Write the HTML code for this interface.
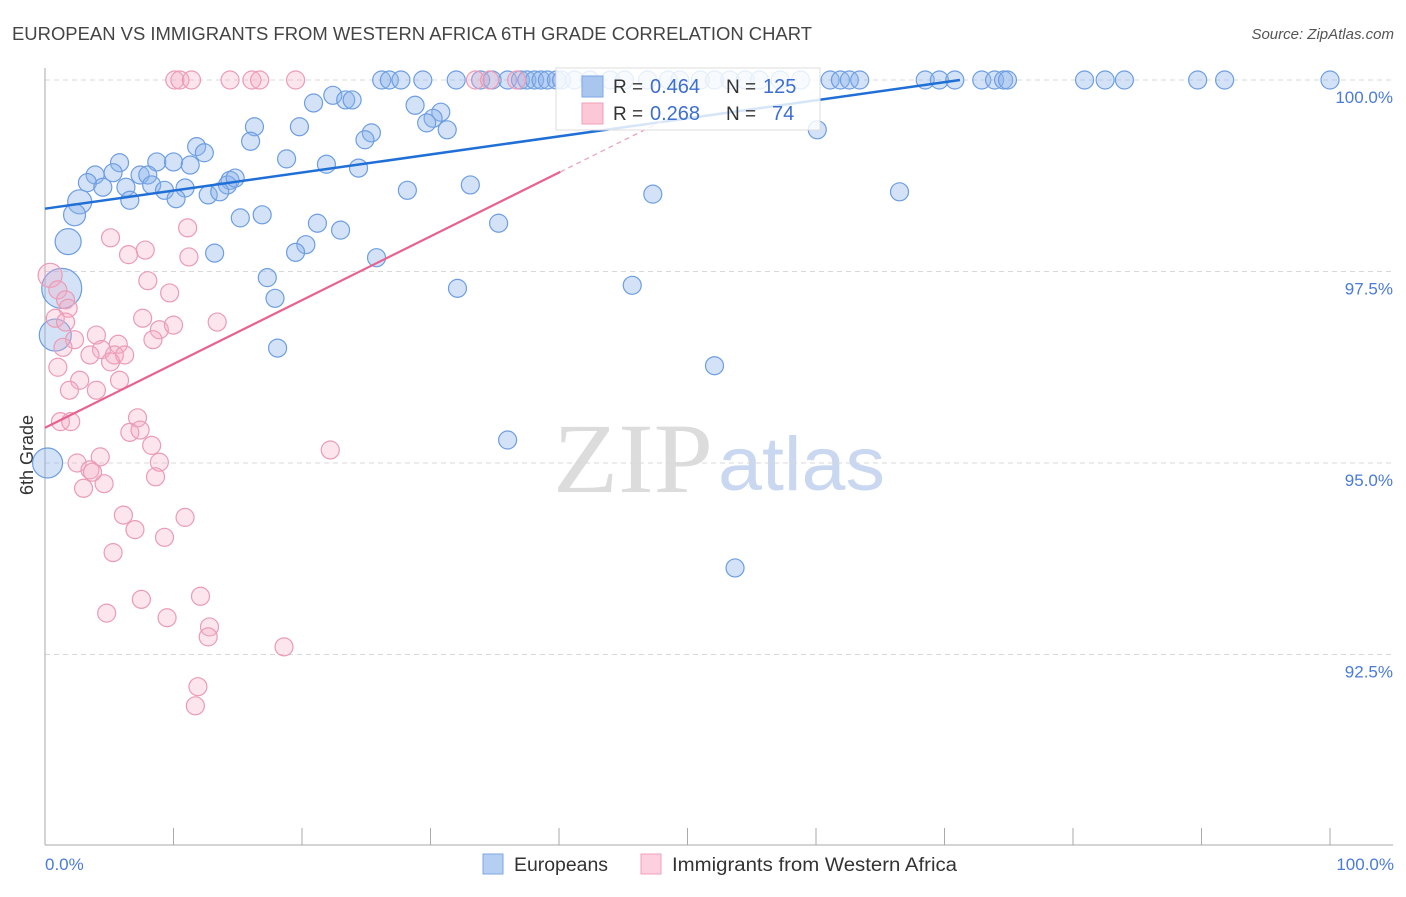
<!DOCTYPE html>
<html><head><meta charset="utf-8"><style>
body{margin:0;background:#fff;font-family:"Liberation Sans",sans-serif}
svg text{font-family:"Liberation Sans",sans-serif}
</style></head><body>
<svg id="chart" width="1406" height="892" xmlns="http://www.w3.org/2000/svg">
<text x="12" y="40" font-size="18" fill="#444" textLength="800" lengthAdjust="spacingAndGlyphs">EUROPEAN VS IMMIGRANTS FROM WESTERN AFRICA 6TH GRADE CORRELATION CHART</text>
<text x="1394" y="39" font-size="15" fill="#555" font-style="italic" text-anchor="end">Source: ZipAtlas.com</text>
<text transform="translate(33,455) rotate(-90)" font-size="18" fill="#333" text-anchor="middle">6th Grade</text>
<g>
<text x="553" y="492" font-size="100" fill="#dcdcdc" textLength="160" lengthAdjust="spacingAndGlyphs" style="font-family:'Liberation Serif',serif">ZIP</text>
<text x="718" y="490" font-size="76" fill="#c9d8f0" textLength="167" lengthAdjust="spacingAndGlyphs">atlas</text>
</g>
<g id="grid"></g>
<g id="axes"></g>
<g id="pts"></g>
<g id="lines"></g>
<g>
<rect x="556" y="68" width="264" height="62" fill="rgba(255,255,255,0.82)" stroke="#ddd"/>
<rect x="582" y="76" width="21" height="21" fill="#a9c6ef" stroke="#7ea6e4"/>
<text x="613" y="93" font-size="19" fill="#333">R = </text><text x="650" y="93" font-size="20" fill="#3d6fd0">0.464</text>
<text x="726" y="93" font-size="19" fill="#333">N = </text><text x="763" y="93" font-size="20" fill="#3d6fd0">125</text>
<rect x="582" y="103" width="21" height="21" fill="#fcc8d8" stroke="#f0a0b8"/>
<text x="613" y="120" font-size="19" fill="#333">R = </text><text x="650" y="120" font-size="20" fill="#3d6fd0">0.268</text>
<text x="726" y="120" font-size="19" fill="#333">N = </text><text x="772" y="120" font-size="20" fill="#3d6fd0">74</text>
</g>
<g>
<rect x="483" y="854" width="20" height="20" fill="#b4cff2" stroke="#7ea6e4"/>
<text x="514" y="871" font-size="19" fill="#333" textLength="94" lengthAdjust="spacingAndGlyphs">Europeans</text>
<rect x="641" y="854" width="20" height="20" fill="#fcd0de" stroke="#f0a0b8"/>
<text x="672" y="871" font-size="19" fill="#333" textLength="285" lengthAdjust="spacingAndGlyphs">Immigrants from Western Africa</text>
</g>
<text x="45" y="870" font-size="17" fill="#4a7bd8">0.0%</text>
<text x="1394" y="870" font-size="17" fill="#4a7bd8" text-anchor="end">100.0%</text>
</svg>
<script>
const blueX=[26.2,26.8,27.7,29.4,32.0,33.9,34.8,36.0,37.0,37.5,38.1,38.6,39.1,39.8,40.2,41.2,42.4,44.0,45.1,46.9,48.5,49.4,51.0,52.1,53.3,54.5,55.6,57.2,58.8,61.1,61.9,62.6,63.4,68.5,69.6,70.8,72.9,73.9,74.6,74.9,80.9,82.5,84.0,89.7,91.8,100,
22.4,20.9,23.4,23.9,28.8,30.8,30.2,29.7,31.3,25.4,24.9,19.8,16.3,16.0,11.8,12.4,18.8,21.9,24.4,5.8,8.7,10.0,11.3,3.9,5.3,7.4,8.0,3.3,4.5,6.3,8.3,9.3,10.9,14.4,14.2,14.8,12.7,13.6,6.6,10.2,2.7,2.3,1.8,15.2,16.9,21.2,23.0,20.3,19.5,13.2,28.2,33.1,47.3,66.5,35.3,25.8,17.3,17.9,1.3,32.1,45.7,0.8,18.1,52.1,0.2,36.0,53.7,60.1];
const blueY=[100,100,100,100,100,100,100,100,100,100,100,100,100,100,100,100,100,100,100,100,100,100,100,100,100,100,100,100,100,100,100,100,100,100,100,100,100,100,100,100,100,100,100,100,100,100,
99.80,99.70,99.74,99.74,99.67,99.58,99.50,99.44,99.35,99.31,99.22,99.39,99.39,99.20,99.13,99.05,98.97,98.90,98.85,98.92,98.93,98.93,98.89,98.76,98.79,98.76,98.76,98.66,98.60,98.60,98.63,98.56,98.59,98.69,98.63,98.72,98.50,98.54,98.43,98.45,98.41,98.24,97.89,98.20,98.24,98.13,98.04,97.85,97.75,97.74,98.56,98.63,98.51,98.54,98.13,97.68,97.42,97.15,97.28,97.28,97.32,96.67,96.50,96.27,95.00,95.30,93.63,99.35];
const blueBig={86:12,87:11,88:13,104:20,107:16,110:15};
const pinkX=[10.1,10.5,11.4,14.4,16.1,16.7,19.5,33.5,34.6,36.7,
5.1,7.8,6.5,11.1,11.2,8.0,9.7,0.4,1.0,1.6,1.8,0.8,1.6,7.6,4.0,8.9,10.0,13.4,2.3,1.4,5.7,4.4,3.5,5.4,6.2,5.1,8.4,1.0,2.7,5.8,1.9,4.0,7.2,1.2,2.0,6.6,7.4,8.3,22.2,2.5,4.3,8.9,3.5,3.7,8.6,4.6,3.0,6.1,10.9,7.0,9.3,5.3,7.5,4.8,9.5,12.1,12.8,12.7,18.6,11.9,11.7];
const pinkY=[100,100,100,100,100,100,100,100,100,100,
97.94,97.78,97.72,98.07,97.69,97.38,97.22,97.45,97.26,97.13,97.02,96.89,96.84,96.89,96.67,96.74,96.80,96.84,96.61,96.51,96.55,96.48,96.41,96.41,96.41,96.32,96.61,96.25,96.08,96.08,95.95,95.95,95.59,95.54,95.54,95.40,95.43,95.23,95.17,95.00,95.08,95.01,94.91,94.88,94.82,94.73,94.67,94.32,94.29,94.13,94.03,93.83,93.22,93.04,92.98,93.26,92.86,92.73,92.60,92.08,91.83];
const pinkBig={17:12};
const yTicks=[100,97.5,95,92.5];
const yTickLabels=["100.0%","97.5%","95.0%","92.5%"];
const xTicks=[0,10,20,30,40,50,60,70,80,90,100];
const blueFit=[[0,98.32],[71.2,100]];
const pinkFit=[[0,95.46],[40.1,98.8]];
const pinkFitDash=[[40.1,98.8],[48,99.46]];

const NS="http://www.w3.org/2000/svg";
const X=v=>45+v*12.85, Y=v=>80+(100-v)*76.6;
function mk(tag,attrs,parent){const e=document.createElementNS(NS,tag);for(const k in attrs)e.setAttribute(k,attrs[k]);parent.appendChild(e);return e;}
const grid=document.getElementById('grid'),axes=document.getElementById('axes'),pts=document.getElementById('pts'),lines=document.getElementById('lines');
yTicks.forEach((t,i)=>{
 const l=mk('line',{x1:45,x2:1393,y1:Y(t),y2:Y(t),stroke:'#d8d8d8','stroke-dasharray':'5,4'},grid);
 
 
 const tx=mk('text',{x:1393,y:Y(t)+23,'font-size':17,fill:'#4a7bd8','text-anchor':'end'},grid);
 tx.textContent=yTickLabels[i];
 
 
});
const ya=mk('line',{x1:45,x2:45,y1:68,y2:845,stroke:'#aaa'},axes);


const xa=mk('line',{x1:45,x2:1393,y1:845,y2:845,stroke:'#aaa'},axes);


xTicks.forEach(t=>{
 const l=mk('line',{x1:X(t),x2:X(t),y1:828,y2:845,stroke:'#aaa'},axes);
 
 
});
blueX.forEach((v,i)=>{
 const c=mk('circle',{cx:X(v),cy:Y(blueY[i]),r:blueBig[i]||9,fill:'rgba(140,180,235,0.38)',stroke:'#6d9ee2','stroke-width':1.2},pts);
 
 
});
pinkX.forEach((v,i)=>{
 const c=mk('circle',{cx:X(v),cy:Y(pinkY[i]),r:pinkBig[i]||9,fill:'rgba(245,170,195,0.3)',stroke:'#eb9bb6','stroke-width':1.2},pts);
 
 
});
const bl=mk('line',{x1:X(blueFit[0][0]),y1:Y(blueFit[0][1]),x2:X(blueFit[1][0]),y2:Y(blueFit[1][1]),stroke:'#1f6fd6','stroke-width':2.5},lines);


const pl=mk('line',{x1:X(pinkFit[0][0]),y1:Y(pinkFit[0][1]),x2:X(pinkFit[1][0]),y2:Y(pinkFit[1][1]),stroke:'#e8628f','stroke-width':2.2},lines);


const pd=mk('line',{x1:X(pinkFitDash[0][0]),y1:Y(pinkFitDash[0][1]),x2:X(pinkFitDash[1][0]),y2:Y(pinkFitDash[1][1]),stroke:'#eaa0b8','stroke-width':1.2,'stroke-dasharray':'5,4'},lines);


</script>
</body></html>
